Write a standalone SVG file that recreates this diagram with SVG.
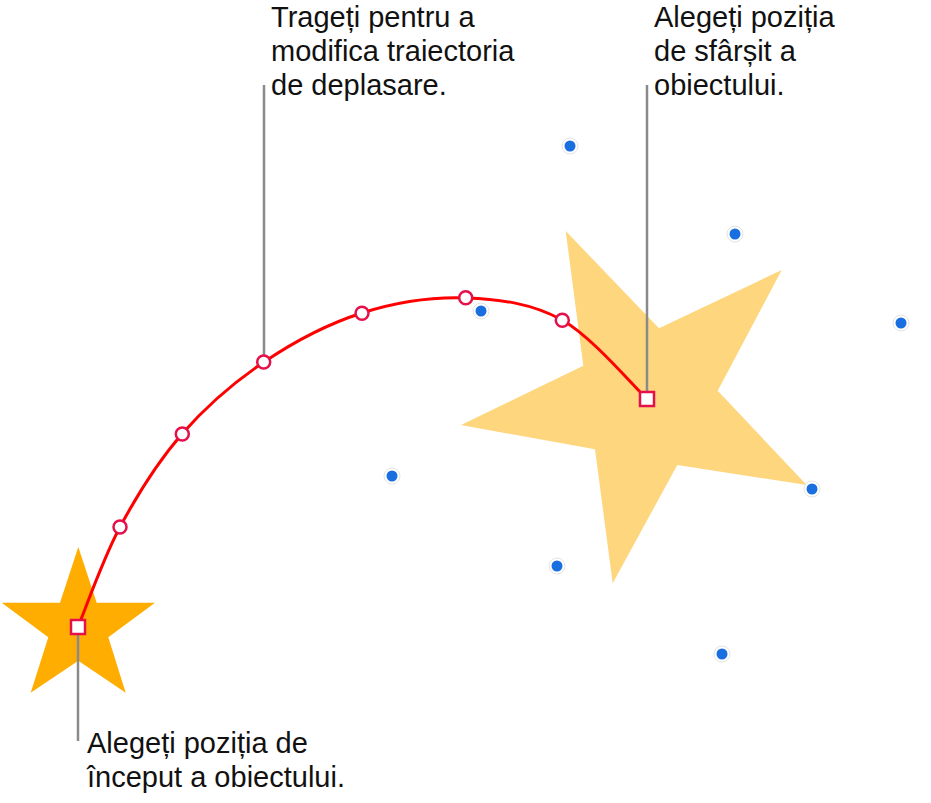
<svg xmlns="http://www.w3.org/2000/svg" width="931" height="803" viewBox="0 0 931 803">
<style>
.lbl{font-family:"Liberation Sans",Arial,sans-serif;font-size:29px;fill:#111}
.lead{stroke:#8a8a8a;stroke-width:2.5;fill:none}
.pt{fill:#fff;stroke:#e5104a;stroke-width:2.5}
.dot{fill:#1a6fe0}
.halo{fill:#fff;stroke:#e4e4e4;stroke-width:1}
</style>
<rect width="931" height="803" fill="#fff"/>
<g id="end-star">
<polygon points="565.7,231 659,328.3 781.7,270 717.7,390.7 806.7,485 677.3,465 612.7,583.3 595,449.3 461,425 583.3,365.7" fill="#fdd67e"/>
</g>
<g id="start-star">
<polygon points="78.3,547 96.7,602.7 155,602.7 108.3,637.3 125.7,692.7 78.3,660.7 30.7,692.7 48.3,637.3 1.7,602.7 60,602.7" fill="#ffad00"/>
</g>
<g id="handles">
<circle class="halo" cx="570" cy="146" r="8"/><circle class="dot" cx="570" cy="146" r="5.5"/>
<circle class="halo" cx="735" cy="234" r="8"/><circle class="dot" cx="735" cy="234" r="5.5"/>
<circle class="halo" cx="901" cy="323" r="8"/><circle class="dot" cx="901" cy="323" r="5.5"/>
<circle class="halo" cx="481" cy="311" r="8"/><circle class="dot" cx="481" cy="311" r="5.5"/>
<circle class="halo" cx="392" cy="476" r="8"/><circle class="dot" cx="392" cy="476" r="5.5"/>
<circle class="halo" cx="812" cy="489" r="8"/><circle class="dot" cx="812" cy="489" r="5.5"/>
<circle class="halo" cx="557" cy="566" r="8"/><circle class="dot" cx="557" cy="566" r="5.5"/>
<circle class="halo" cx="722" cy="654" r="8"/><circle class="dot" cx="722" cy="654" r="5.5"/>
</g>
<g id="connectors">
<line class="lead" x1="264" y1="85" x2="264" y2="356"/>
<line class="lead" x1="647" y1="85" x2="647" y2="392"/>
<line class="lead" x1="78" y1="634" x2="78" y2="741"/>
<path d="M78,627 C85,610.3 102.7,559.2 120,527 C137.3,494.8 158,461.5 182,434 C206,406.5 234,382.2 264,362 C294,341.8 328.3,323.7 362,313 C395.7,302.3 432.7,296.8 466,298 C499.3,299.2 531.8,303.2 562,320 C592.2,336.8 632.8,385.8 647,399" fill="none" stroke="#ff0000" stroke-width="3"/>
</g>
<g id="path-points">
<circle class="pt" cx="120" cy="527" r="6.5"/>
<circle class="pt" cx="182.3" cy="434" r="6.5"/>
<circle class="pt" cx="263.7" cy="362" r="6.5"/>
<circle class="pt" cx="362" cy="313.3" r="6.5"/>
<circle class="pt" cx="465.7" cy="297.7" r="6.5"/>
<circle class="pt" cx="562.3" cy="320.3" r="6.5"/>
</g>
<g id="start-point"><rect class="pt" x="71" y="620" width="14" height="14"/></g>
<g id="end-point"><rect class="pt" x="640" y="392" width="14" height="14"/></g>
<g id="label-drag">
<text class="lbl" x="271" y="27">Trageți pentru a</text>
<text class="lbl" x="271" y="61">modifica traiectoria</text>
<text class="lbl" x="271" y="95">de deplasare.</text>
</g>
<g id="label-end">
<text class="lbl" x="654" y="27">Alegeți poziția</text>
<text class="lbl" x="654" y="61">de sfârșit a</text>
<text class="lbl" x="654" y="95">obiectului.</text>
</g>
<g id="label-start">
<text class="lbl" x="87" y="753">Alegeți poziția de</text>
<text class="lbl" x="87" y="787">început a obiectului.</text>
</g>
</svg>
